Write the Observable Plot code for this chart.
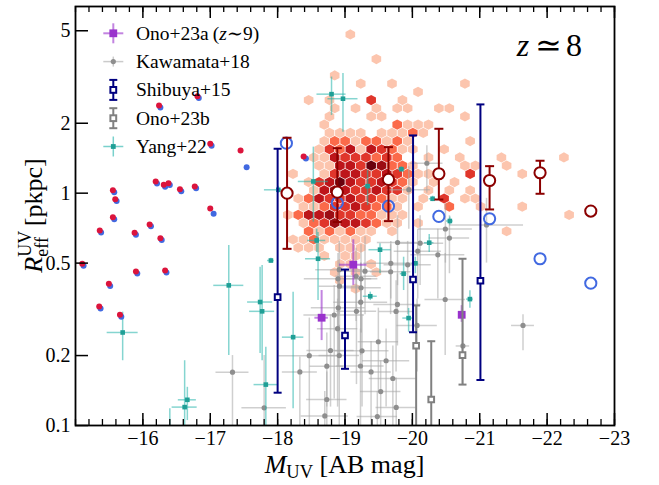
<!DOCTYPE html>
<html><head><meta charset="utf-8">
<script src="https://cdn.jsdelivr.net/npm/d3@7"></script>
<script src="https://cdn.jsdelivr.net/npm/@observablehq/plot@0.6"></script>
<style>body{margin:0;background:#fff}</style>
</head><body><div id="chart"></div>
<script>
// ---------------- DATA ----------------
const xTicks = [-16, -17, -18, -19, -20, -21, -22, -23];
const yTicks = [0.1, 0.2, 0.5, 1, 2, 5];

const drMag = [-18.14, -18.886, -19.645, -20.393, -21.146, -21.895, -22.648];
const drR   = [1.0, 1.01, 1.146, 1.212, 1.134, 1.224, 0.837];
const drLo  = [0.576, 0.751, 0.758, 0.939, 0.851, 0.994, null];
const drHi  = [1.732, 1.562, 1.578, 1.893, 1.307, 1.379, null];

const bcMag = [-18.13, -18.886, -19.645, -20.393, -21.146, -21.895, -22.648];
const bcR   = [1.641, 0.909, 0.879, 0.794, 0.776, 0.522, 0.410];

const rdMag = [-15.10,-15.36,-15.555,-15.59,-15.555,-15.877,-16.10,-16.26,-16.19,-16.31,-16.38,-16.55,-16.77,-16.24,-16.81,-17.00,-17.45,-17.00,-18.386,-15.897,-16.33,-15.495,-15.352,-15.66];
const rdR   = [0.497,0.691,1.03,0.942,0.788,0.675,0.733,0.640,1.123,1.087,1.104,1.040,1.069,2.385,2.616,1.632,1.527,0.859,1.439,0.460,0.465,0.407,0.325,0.2996];
const bdMag = [-15.12,-15.38,-15.575,-15.61,-15.575,-15.897,-16.12,-16.28,-16.21,-16.33,-16.40,-16.57,-16.79,-16.26,-16.83,-17.02,-17.54,-17.05,-18.42,-15.917,-16.35,-15.515,-15.372,-15.68];
const bdR   = [0.487,0.677,1.01,0.925,0.773,0.662,0.72,0.628,1.10,1.066,1.083,1.02,1.049,2.34,2.57,1.60,1.294,0.815,1.41,0.451,0.456,0.399,0.319,0.294];

const shMag = [-18.0, -19.0, -20.01, -21.01];
const shR   = [0.357, 0.244, 0.425, 0.4197];
const shLo  = [0.1384, 0.1754, 0.252, 0.157];
const shHi  = [1.553, 0.469, 1.772, 2.41];

const obMag = [-20.056, -20.28, -20.744];
const obR   = [0.2204, 0.1294, 0.2007];
const obLo  = [0.05, 0.05, 0.150];
const obHi  = [0.3286, 0.2305, 0.522];

const oaMag  = [-19.123, -18.653, -20.732];
const oaR    = [0.492, 0.291, 0.2996];
const oaXerr = [0.204, 0.10, 0.04];
const oaLo   = [0.4006, 0.232, 0.278];
const oaHi   = [0.630, 0.381, 0.328];

const kwMag  = [-17.33,-17.80,-18.33,-18.47,-18.785,-18.915,-18.73,-18.73,-18.70,-18.915,-18.896,-18.918,-18.90,-18.84,-18.89,-19.17,-19.233,-19.238,-19.297,-19.164,-19.238,-19.23,-19.253,-19.387,-19.495,-19.53,-19.61,-19.48,-19.71,-19.76,-19.758,-19.778,-19.78,-19.68,-19.677,-19.93,-20.07,-20.115,-20.08,-20.215,-19.947,-20.49,-20.55,-20.378,-20.487,-20.75,-21.10,-21.642];
const kwR    = [0.1696,0.1192,0.170,0.1998,0.2103,0.200,0.180,0.1294,0.110,0.4686,0.428,0.398,0.321,0.299,0.261,0.310,0.3395,0.428,0.4616,0.439,0.3916,0.1803,0.2097,0.170,0.2293,0.140,0.190,0.1093,0.1593,0.1196,0.3096,0.332,0.6134,0.499,0.459,0.4917,0.2695,0.609,0.5627,1.345,1.035,0.701,0.641,0.543,0.3486,0.220,0.730,0.2695];
const kwXerr = [0.245,0.33,0.26,0.45,0.35,0.30,0.25,0.30,0.35,0.35,0.50,0.30,0.40,0.45,0.30,0.30,0.40,0.25,0.35,0.30,0.30,0.35,0.40,0.30,0.30,0.30,0.35,0.30,0.35,0.30,0.25,0.35,0.30,0.40,0.30,0.35,0.30,0.35,0.35,0.24,0.32,0.40,0.30,0.40,0.30,0.10,0.55,0.17];
const kwLo   = [0.095,0.08,0.09,0.09,0.12,0.10,0.12,0.09,0.09,0.30,0.25,0.20,0.18,0.13,0.12,0.15,0.20,0.25,0.30,0.28,0.25,0.10,0.12,0.10,0.14,0.09,0.12,0.09,0.10,0.09,0.17,0.22,0.40,0.35,0.30,0.30,0.17,0.40,0.35,1.00,0.70,0.50,0.45,0.35,0.20,0.15,0.50,0.21];
const kwHi   = [0.20,0.20,0.197,0.29,0.30,0.27,0.25,0.17,0.14,0.62,0.55,0.50,0.42,0.40,0.35,0.45,0.50,0.60,0.65,0.58,0.50,0.26,0.30,0.23,0.32,0.19,0.26,0.14,0.22,0.16,0.42,0.45,0.80,0.62,0.60,0.62,0.35,0.80,0.70,1.60,1.30,0.90,0.80,0.70,0.55,0.30,0.95,0.30];

const ygMag  = [-18.80,-18.97,-18.53,-18.01,-18.58,-18.60,-17.90,-17.275,-17.74,-17.77,-18.23,-17.825,-16.66,-16.62,-15.70,-16.40,-19.837,-19.335,-19.52,-20.25,-20.556,-20.30,-20.045,-19.87,-19.375,-19.944,-20.854];
const ygR    = [2.668,2.55,1.123,1.034,0.626,0.522,0.513,0.401,0.340,0.310,0.240,0.150,0.129,0.120,0.2514,0.095,1.268,1.072,0.571,0.612,0.759,0.946,0.499,0.45,0.36,0.29,0.35];
const ygXerr = [0.216,0.223,0.223,0.206,0.134,0.186,0.05,0.223,0.186,0.186,0.159,0.175,0.134,0.186,0.23,0.05,0.05,0.05,0.164,0.07,0.05,0.05,0.05,0.05,0.104,0.086,0.05];
const ygLo   = [2.16,1.83,0.75,1.0,0.555,0.345,0.50,0.20,0.204,0.19,0.118,0.09,0.105,0.08,0.19,0.08,1.24,0.884,0.45,0.555,0.73,0.92,0.45,0.381,0.345,0.252,0.32];
const ygHi   = [3.16,3.27,1.578,1.07,0.70,0.677,0.525,0.5955,0.48,0.488,0.375,0.217,0.146,0.19,0.3075,0.118,1.30,1.252,0.605,0.664,0.79,0.97,0.53,0.53,0.375,0.319,0.38];

// Hexbin density (bin centres on the hex grid; digit = shade level)
const hexMag0 = -19.079, hexMagStep = -0.15465, hexLogR0 = 0.6832, hexLogStep = -0.0353, hexColStart = -7;
const hexRows = [
  [0,  ".......1"],
  [3,  ".........1"],
  [5,  ".....1"],
  [6,  "........1..1......1"],
  [7,  ".............1"],
  [8,  "...1.1...4..1"],
  [9,  ".....1.1.1.11..11"],
  [10, ".....1...11.......1"],
  [11, "....1......3111"],
  [12, ".....1111.11131"],
  [13, "....133133131.....1"],
  [14, "....1435154311..1"],
  [15, "...115444343..1..1...1.....1"],
  [16, "....1155476331....11..1"],
  [17, ".1..145544543111..4....1"],
  [18, "...14575445431.1.1"],
  [19, "...1565445441.1.1.1"],
  [20, "..13544544311.1.4.11"],
  [21, "..1134454331.1..3..1...1"],
  [22, ".135564433111...............1"],
  [23, "..1346554311.1"],
  [24, "...3131311.1..........1"],
  [25, ".11311111"],
  [26, "..111.111"],
  [27, "....1.11"],
  [28, "......11.1"],
  [29, ".....1.1.1"],
  [30, "......1"],
  [31, ".......1"]
];
const hexLevelColors = ["", "#fcc5ae", "#fc9d80", "#fb6a4a", "#e0362b", "#bd151a", "#9c0d14", "#6a010d"];

// ---------------- BUILD ----------------
const FONT = "Liberation Serif, DejaVu Serif, serif";
const W = 659, H = 485, ML = 75, MR = 45, MT = 6, MB = 60;
const FH = H - MT - MB, FW = W - ML - MR;

const hexCells = [];
hexRows.forEach(([k, s]) => {
  for (let i = 0; i < s.length; i++) {
    const c = s[i];
    if (c === ".") continue;
    const col = i + hexColStart + (k % 2) * 0.5;
    hexCells.push({mag: hexMag0 + hexMagStep * col, R: Math.pow(10, hexLogR0 + hexLogStep * k), color: hexLevelColors[+c]});
  }
});
const dr = drMag.map((m, i) => ({mag: m, R: drR[i], lo: drLo[i], hi: drHi[i]}));
const drErr = dr.filter(d => d.lo != null);
const bc = bcMag.map((m, i) => ({mag: m, R: bcR[i]}));
const rd = rdMag.map((m, i) => ({mag: m, R: rdR[i]}));
const bd = bdMag.map((m, i) => ({mag: m, R: bdR[i]}));
const sh = shMag.map((m, i) => ({mag: m, R: shR[i], lo: shLo[i], hi: shHi[i]}));
const ob = obMag.map((m, i) => ({mag: m, R: obR[i], lo: obLo[i], hi: obHi[i]}));
const oa = oaMag.map((m, i) => ({mag: m, R: oaR[i], x1: m + oaXerr[i], x2: m - oaXerr[i], lo: oaLo[i], hi: oaHi[i]}));
const kw = kwMag.map((m, i) => ({mag: m, R: kwR[i], x1: m + kwXerr[i], x2: m - kwXerr[i], lo: kwLo[i], hi: kwHi[i]}));
const yg = ygMag.map((m, i) => ({mag: m, R: ygR[i], x1: m + ygXerr[i], x2: m - ygXerr[i], lo: ygLo[i], hi: ygHi[i]}));

const hexSym = {draw(ctx, size) {
  const r = Math.sqrt(size / Math.PI), rx = r, ry = r * 1.06, hy = ry / 2;
  ctx.moveTo(0, -ry); ctx.lineTo(rx, -hy); ctx.lineTo(rx, hy); ctx.lineTo(0, ry); ctx.lineTo(-rx, hy); ctx.lineTo(-rx, -hy); ctx.closePath();
}};
const capSym = {draw(ctx, size) {
  const r = Math.sqrt(size / Math.PI);
  ctx.moveTo(-r, 0); ctx.lineTo(r, 0);
}};

const xMinor = d3.range(-15, -23.01, -0.2).map(v => Math.round(v * 10) / 10);

function errMarks(data, color, opts) {
  return [
    Plot.ruleX(data, {x: "mag", y1: "lo", y2: "hi", stroke: color, strokeWidth: opts.w, clip: true}),
    Plot.dot(data, {x: "mag", y: "lo", r: opts.cap, symbol: capSym, stroke: color, strokeWidth: opts.w, fill: "none", clip: true}),
    Plot.dot(data, {x: "mag", y: "hi", r: opts.cap, symbol: capSym, stroke: color, strokeWidth: opts.w, fill: "none", clip: true})
  ];
}

const plot = Plot.plot({
  width: W, height: H,
  marginLeft: ML, marginRight: MR, marginTop: MT, marginBottom: MB,
  style: {fontFamily: FONT, background: "#fff"},
  x: {domain: [-15, -23], axis: null},
  y: {type: "log", domain: [0.1, 6.36], axis: null},
  color: {type: "identity"},
  marks: [
    Plot.dot(hexCells, {x: "mag", y: "R", r: 4.8, symbol: hexSym, fill: "color", stroke: "none", clip: true}),
    Plot.ruleY(kw, {y: "R", x1: "x1", x2: "x2", stroke: "#a8a8a8", strokeOpacity: 0.55, strokeWidth: 1.5, clip: true}),
    Plot.ruleX(kw, {x: "mag", y1: "lo", y2: "hi", stroke: "#a8a8a8", strokeOpacity: 0.55, strokeWidth: 1.5, clip: true}),
    Plot.dot(kw, {x: "mag", y: "R", r: 2.6, fill: "#8e8e8e", clip: true}),
    Plot.ruleY(yg, {y: "R", x1: "x1", x2: "x2", stroke: "#20b2aa", strokeOpacity: 0.55, strokeWidth: 1.5, clip: true}),
    Plot.ruleX(yg, {x: "mag", y1: "lo", y2: "hi", stroke: "#20b2aa", strokeOpacity: 0.55, strokeWidth: 1.5, clip: true}),
    Plot.dot(yg, {x: "mag", y: "R", r: 2.6, symbol: "square", fill: "#1f9f96", clip: true}),
    Plot.ruleY(oa, {y: "R", x1: "x1", x2: "x2", stroke: "#9932cc", strokeOpacity: 0.6, strokeWidth: 2, clip: true}),
    Plot.ruleX(oa, {x: "mag", y1: "lo", y2: "hi", stroke: "#9932cc", strokeOpacity: 0.6, strokeWidth: 2, clip: true}),
    Plot.dot(oa, {x: "mag", y: "R", r: 4.4, symbol: "square", fill: "#9932cc", clip: true}),
    Plot.dot(bd, {x: "mag", y: "R", r: 3, fill: "#4169e1", clip: true}),
    Plot.dot(rd, {x: "mag", y: "R", r: 3, fill: "#dc143c", clip: true}),
    ...errMarks(ob, "#808080", {w: 2, cap: 4}),
    Plot.dot(ob, {x: "mag", y: "R", r: 3.2, symbol: "square", fill: "white", stroke: "#808080", strokeWidth: 2, clip: true}),
    ...errMarks(sh, "#000080", {w: 2, cap: 4}),
    Plot.dot(sh, {x: "mag", y: "R", r: 3.2, symbol: "square", fill: "white", stroke: "#000080", strokeWidth: 2, clip: true}),
    Plot.dot(bc, {x: "mag", y: "R", r: 5.6, fill: "none", stroke: "#4169e1", strokeWidth: 2, clip: true}),
    ...errMarks(drErr, "#8b0000", {w: 2, cap: 4.5}),
    Plot.dot(dr, {x: "mag", y: "R", r: 5.6, fill: "white", stroke: "#8b0000", strokeWidth: 2, clip: true}),
    Plot.frame({stroke: "black", strokeWidth: 1.8}),
    Plot.tickX(xTicks, {x: d => d, insetTop: FH - 12, stroke: "black", strokeWidth: 1.5}),
    Plot.tickX(xTicks, {x: d => d, insetBottom: FH - 12, stroke: "black", strokeWidth: 1.5}),
    Plot.tickX(xMinor, {x: d => d, insetTop: FH - 6, stroke: "black", strokeWidth: 1.3}),
    Plot.tickX(xMinor, {x: d => d, insetBottom: FH - 6, stroke: "black", strokeWidth: 1.3}),
    Plot.tickY(yTicks, {y: d => d, insetRight: FW - 13, stroke: "black", strokeWidth: 1.5}),
    Plot.axisX({ticks: xTicks, tickSize: 0, tickPadding: 5, tickFormat: d => "\u2212" + Math.abs(d), fontSize: 20, fill: "black", label: null}),
    Plot.axisY({ticks: yTicks, tickSize: 0, tickPadding: 5, tickFormat: d => String(d), fontSize: 20, fill: "black", label: null})
  ]
});
document.getElementById("chart").appendChild(plot);

const svg = d3.select(plot);
svg.selectAll("text").style("font-family", FONT);

// x label
const xl = svg.append("text").attr("x", ML + FW / 2).attr("y", 473).attr("text-anchor", "middle")
  .style("font-family", FONT).attr("font-size", 26).attr("fill", "black");
xl.append("tspan").style("font-style", "italic").text("M");
xl.append("tspan").attr("font-size", 18.5).attr("dy", 5).text("UV");
xl.append("tspan").attr("dy", -5).text(" [AB mag]");
// y label
const yl = svg.append("text").attr("transform", `translate(42,${MT + FH / 2}) rotate(-90)`).attr("text-anchor", "middle")
  .style("font-family", FONT).attr("font-size", 26).attr("fill", "black");
yl.append("tspan").style("font-style", "italic").text("R");
const supT = yl.append("tspan").attr("font-size", 18).attr("dy", -11).text("UV");
const subT = yl.append("tspan").attr("font-size", 18).attr("dy", 17).text("eff");
const restT = yl.append("tspan").attr("dy", -6).text(" [pkpc]");
const wUV = supT.node().getComputedTextLength(), wEff = subT.node().getComputedTextLength();
subT.attr("dx", -wUV);
restT.attr("dx", Math.max(0, wUV - wEff));
// redshift label
const zl = svg.append("text").attr("x", 582).attr("y", 55.5).attr("text-anchor", "end")
  .style("font-family", FONT).attr("font-size", 32).attr("fill", "black");
zl.append("tspan").style("font-style", "italic").text("z");
zl.append("tspan").attr("dx", 6).text("\u2243");
zl.append("tspan").attr("dx", 4).text("8");

// legend
const legendNames = ["Ono+23a", "Kawamata+18", "Shibuya+15", "Ono+23b", "Yang+22"];
const lg = svg.append("g");
const lx = 113.3, ly0 = 33.3, ldy = 28.3, tx = 136;
legendNames.forEach((name, i) => {
  const y = ly0 + i * ldy;
  const t = lg.append("text").attr("x", tx).attr("y", y + 6.5).attr("text-anchor", "start")
    .style("font-family", FONT).attr("font-size", 19.5).attr("fill", "black");
  t.append("tspan").text(name);
  if (i === 0) {
    t.append("tspan").text("\u2009(");
    t.append("tspan").style("font-style", "italic").text("z");
    t.append("tspan").text("\u223C9)");
    lg.append("line").attr("x1", lx - 10).attr("x2", lx + 10).attr("y1", y).attr("y2", y).attr("stroke", "#9932cc").attr("stroke-opacity", 0.6).attr("stroke-width", 2);
    lg.append("line").attr("x1", lx).attr("x2", lx).attr("y1", y - 10).attr("y2", y + 10).attr("stroke", "#9932cc").attr("stroke-opacity", 0.6).attr("stroke-width", 2);
    lg.append("rect").attr("x", lx - 3.9).attr("y", y - 3.9).attr("width", 7.8).attr("height", 7.8).attr("fill", "#9932cc");
  } else if (i === 1) {
    lg.append("line").attr("x1", lx - 10).attr("x2", lx + 10).attr("y1", y).attr("y2", y).attr("stroke", "#a8a8a8").attr("stroke-opacity", 0.6).attr("stroke-width", 1.5);
    lg.append("line").attr("x1", lx).attr("x2", lx).attr("y1", y - 5).attr("y2", y + 5).attr("stroke", "#a8a8a8").attr("stroke-opacity", 0.6).attr("stroke-width", 1.5);
    lg.append("circle").attr("cx", lx).attr("cy", y).attr("r", 2.6).attr("fill", "#8e8e8e");
  } else if (i === 2 || i === 3) {
    const c = i === 2 ? "#000080" : "#808080";
    lg.append("line").attr("x1", lx).attr("x2", lx).attr("y1", y - 10).attr("y2", y + 10).attr("stroke", c).attr("stroke-width", 2);
    lg.append("line").attr("x1", lx - 4).attr("x2", lx + 4).attr("y1", y - 10).attr("y2", y - 10).attr("stroke", c).attr("stroke-width", 2);
    lg.append("line").attr("x1", lx - 4).attr("x2", lx + 4).attr("y1", y + 10).attr("y2", y + 10).attr("stroke", c).attr("stroke-width", 2);
    lg.append("rect").attr("x", lx - 2.9).attr("y", y - 2.9).attr("width", 5.8).attr("height", 5.8).attr("fill", "white").attr("stroke", c).attr("stroke-width", 2);
  } else {
    lg.append("line").attr("x1", lx - 10).attr("x2", lx + 10).attr("y1", y).attr("y2", y).attr("stroke", "#20b2aa").attr("stroke-opacity", 0.6).attr("stroke-width", 1.5);
    lg.append("line").attr("x1", lx).attr("x2", lx).attr("y1", y - 10).attr("y2", y + 10).attr("stroke", "#20b2aa").attr("stroke-opacity", 0.6).attr("stroke-width", 1.5);
    lg.append("rect").attr("x", lx - 2.4).attr("y", y - 2.4).attr("width", 4.8).attr("height", 4.8).attr("fill", "#1f9f96");
  }
});
</script></body></html>
